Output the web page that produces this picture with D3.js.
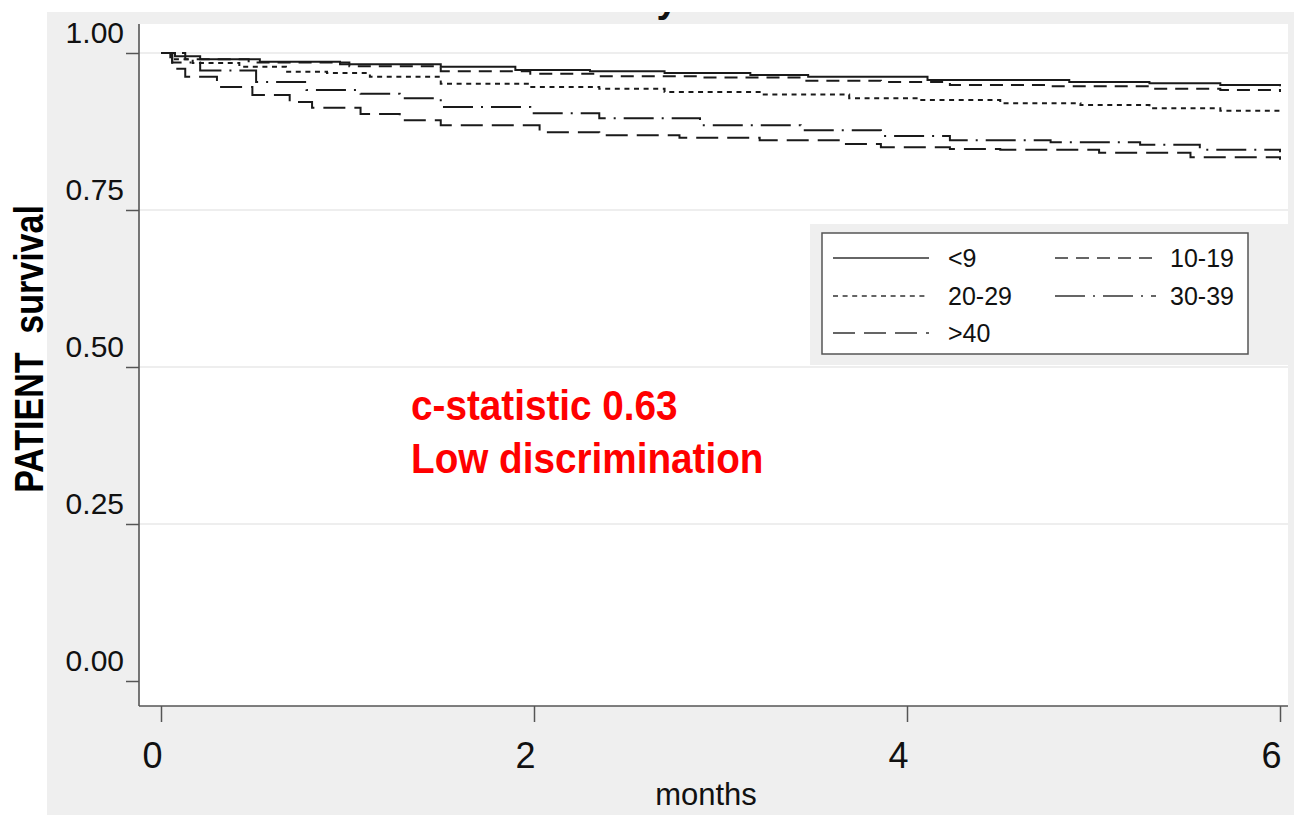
<!DOCTYPE html>
<html>
<head>
<meta charset="utf-8">
<script src="https://cdn.jsdelivr.net/npm/d3@7"></script>
<style>
  html, body { margin: 0; padding: 0; background: #ffffff; }
  svg { display: block; }
  text { font-family: "Liberation Sans", Arial, Helvetica, sans-serif; }
</style>
</head>
<body>
<svg id="chart" width="1294" height="815"></svg>
<script>
// ---------------- data ----------------
const seriesNames = ["<9", "10-19", "20-29", "30-39", ">40"];

const months_lt9 = [0, 0.075, 0.21, 0.53, 0.96, 1.50, 1.90, 2.30, 2.70, 3.16, 3.47, 4.11, 4.87, 5.30, 5.68, 6.0];
const surv_lt9   = [1.0, 0.995, 0.990, 0.986, 0.982, 0.978, 0.973, 0.971, 0.968, 0.965, 0.962, 0.957, 0.954, 0.952, 0.949, 0.947];

const months_10_19 = [0, 0.13, 0.47, 1.01, 1.50, 1.98, 2.35, 2.89, 3.43, 3.86, 4.23, 4.77, 5.30, 5.68, 6.0];
const surv_10_19   = [1.0, 0.990, 0.985, 0.979, 0.971, 0.967, 0.963, 0.961, 0.956, 0.954, 0.949, 0.947, 0.943, 0.941, 0.938];

const months_20_29 = [0, 0.05, 0.17, 0.42, 0.67, 0.89, 1.12, 1.50, 1.98, 2.35, 2.70, 3.21, 3.69, 4.07, 4.50, 4.93, 5.30, 5.68, 6.0];
const surv_20_29   = [1.0, 0.990, 0.984, 0.978, 0.970, 0.968, 0.962, 0.951, 0.946, 0.943, 0.938, 0.934, 0.928, 0.925, 0.920, 0.917, 0.912, 0.908, 0.904];

const months_30_39 = [0, 0.06, 0.21, 0.51, 0.78, 1.07, 1.28, 1.50, 1.98, 2.35, 2.89, 3.43, 3.86, 4.23, 4.77, 5.25, 5.57, 6.0];
const surv_30_39   = [1.0, 0.985, 0.972, 0.954, 0.941, 0.935, 0.928, 0.914, 0.904, 0.896, 0.885, 0.877, 0.868, 0.861, 0.858, 0.854, 0.846, 0.842];

const months_gt40 = [0, 0.06, 0.13, 0.30, 0.49, 0.69, 0.81, 1.07, 1.28, 1.50, 2.03, 2.35, 2.78, 3.21, 3.64, 3.86, 4.23, 4.50, 5.03, 5.52, 6.0];
const surv_gt40   = [1.0, 0.975, 0.962, 0.946, 0.933, 0.922, 0.913, 0.903, 0.893, 0.885, 0.874, 0.869, 0.865, 0.861, 0.855, 0.850, 0.847, 0.846, 0.841, 0.834, 0.830];

const xTicks = [0, 2, 4, 6];
const yTicks = [0, 0.25, 0.5, 0.75, 1.0];
const yGridTicks = [0.25, 0.5, 0.75, 1.0];

const annotationLines = ["c-statistic 0.63", "Low discrimination"];
const xTitle = "months";
const yTitle = "PATIENT  survival";

// ---------------- styles ----------------
const dashStyles = {
  "<9": null,
  "10-19": "13,8",
  "20-29": "5,4.6",
  "30-39": "30,8,2,8",
  ">40": "22,9"
};

// ---------------- layout ----------------
const svg = d3.select("#chart");
const plot = { left: 139, right: 1288, top: 24, bottom: 706 };
const bgGray = "#efefef";
const axisCol = "#555";

const x = d3.scaleLinear().domain([0, 6]).range([161, 1280]);
const y = d3.scaleLinear().domain([0, 1]).range([681, 53]);

// background
svg.append("rect").attr("x", 47).attr("y", 12).attr("width", 1294 - 47).attr("height", 815 - 12).attr("fill", bgGray);
svg.append("rect").attr("x", plot.left).attr("y", plot.top)
  .attr("width", plot.right - plot.left).attr("height", plot.bottom - plot.top).attr("fill", "#ffffff");

// cut-off title fragment at the top (only its descender shows, as in the source)
svg.append("clipPath").attr("id", "topclip")
  .append("rect").attr("x", 0).attr("y", 12).attr("width", 1294).attr("height", 20);
svg.append("text").attr("clip-path", "url(#topclip)")
  .attr("x", 667).attr("y", 12).attr("text-anchor", "middle")
  .attr("font-size", 38).attr("font-weight", "bold").attr("fill", "#111").text("y");

// gridlines
svg.append("g").selectAll("line").data(yGridTicks).join("line")
  .attr("x1", plot.left).attr("x2", plot.right)
  .attr("y1", d => y(d)).attr("y2", d => y(d))
  .attr("stroke", "#e9e9e9").attr("stroke-width", 1.6);

// legend background region
svg.append("rect").attr("x", 810).attr("y", 224).attr("width", 478).attr("height", 141).attr("fill", bgGray);
svg.append("rect").attr("x", 822).attr("y", 233).attr("width", 426).attr("height", 121)
  .attr("fill", "#fff").attr("stroke", "#555").attr("stroke-width", 1.5);

// axes
const yAxis = d3.axisLeft(y).tickValues(yTicks).tickFormat(d3.format(".2f")).tickSize(13).tickPadding(2);
const gy = svg.append("g").attr("transform", `translate(${plot.left},0)`).call(yAxis);
gy.select(".domain").remove();
gy.selectAll(".tick line").attr("stroke", axisCol).attr("stroke-width", 1.5);
gy.selectAll(".tick text").attr("font-size", 30).attr("fill", "#111")
  .attr("x", -15).attr("dy", "-11px")
  .attr("font-family", "'Liberation Sans', Arial, sans-serif");

const xAxis = d3.axisBottom(x).tickValues(xTicks).tickFormat(d3.format("d")).tickSize(16).tickPadding(4);
const gx = svg.append("g").attr("transform", `translate(0,${plot.bottom})`).call(xAxis);
gx.select(".domain").remove();
gx.selectAll(".tick line").attr("stroke", axisCol).attr("stroke-width", 1.5);
gx.selectAll(".tick text").attr("font-size", 36).attr("fill", "#111")
  .attr("y", 62).attr("dy", 0).attr("dx", -9)
  .attr("font-family", "'Liberation Sans', Arial, sans-serif");

// axis lines (frame)
svg.append("line").attr("x1", plot.left).attr("x2", plot.left).attr("y1", plot.top).attr("y2", plot.bottom)
  .attr("stroke", axisCol).attr("stroke-width", 1.6);
svg.append("line").attr("x1", plot.left).attr("x2", plot.right).attr("y1", plot.bottom).attr("y2", plot.bottom)
  .attr("stroke", axisCol).attr("stroke-width", 1.6);

// survival curves
const series = [
  { name: "<9", m: months_lt9, s: surv_lt9 },
  { name: "10-19", m: months_10_19, s: surv_10_19 },
  { name: "20-29", m: months_20_29, s: surv_20_29 },
  { name: "30-39", m: months_30_39, s: surv_30_39 },
  { name: ">40", m: months_gt40, s: surv_gt40 }
];
const line = d3.line().x(d => x(d[0])).y(d => y(d[1])).curve(d3.curveStepAfter);
svg.append("g").selectAll("path").data(series).join("path")
  .attr("d", d => line(d.m.map((mm, i) => [mm, d.s[i]])))
  .attr("fill", "none").attr("stroke", "#1a1a1a").attr("stroke-width", 2)
  .attr("stroke-dasharray", d => dashStyles[d.name]);

// legend entries
const legendPos = [
  { sx1: 833, sx2: 929, tx: 948, ly: 258, ty: 267 },
  { sx1: 1055, sx2: 1156, tx: 1170, ly: 258, ty: 267 },
  { sx1: 833, sx2: 929, tx: 948, ly: 296, ty: 305 },
  { sx1: 1055, sx2: 1156, tx: 1170, ly: 296, ty: 305 },
  { sx1: 833, sx2: 929, tx: 948, ly: 333, ty: 342 }
];
const lg = svg.append("g");
seriesNames.forEach((nm, i) => {
  const p = legendPos[i];
  lg.append("line").attr("x1", p.sx1).attr("x2", p.sx2).attr("y1", p.ly).attr("y2", p.ly)
    .attr("stroke", "#333").attr("stroke-width", 1.5).attr("stroke-dasharray", dashStyles[nm]);
  lg.append("text").attr("x", p.tx).attr("y", p.ty).attr("font-size", 25).attr("fill", "#111").text(nm);
});

// axis titles
svg.append("text").attr("transform", "translate(706,805)").attr("text-anchor", "middle")
  .attr("font-size", 31).attr("fill", "#111").text(xTitle);
svg.append("text").attr("transform", "translate(43,349) rotate(-90) scale(0.85,1)").attr("text-anchor", "middle")
  .attr("font-size", 40).attr("font-weight", "bold").attr("fill", "#000").style("white-space", "pre")
  .text(yTitle);

// annotation
annotationLines.forEach((t, i) => {
  svg.append("text").attr("transform", `translate(411,${420 + i * 53}) scale(0.9,1)`)
    .attr("font-size", 43).attr("font-weight", "bold").attr("fill", "#ff0000").text(t);
});
</script>
</body>
</html>
